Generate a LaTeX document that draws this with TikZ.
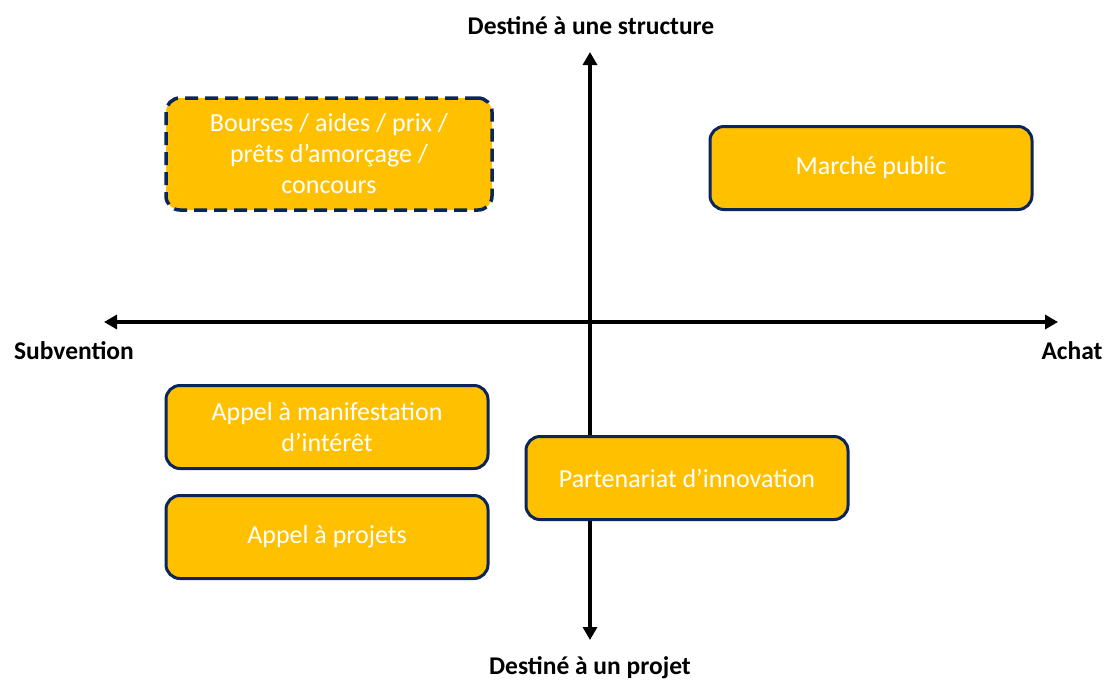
\documentclass[tikz,border=0pt]{standalone}
\usepackage{fontspec}
\setmainfont{Carlito}
\usepackage{tikz}
\usetikzlibrary{arrows, arrows.meta, shapes, positioning}
\definecolor{gold}{HTML}{FFC000}
\definecolor{navy}{HTML}{0A2559}

\begin{document}
\begin{tikzpicture}[x=1pt,y=-1pt,>={Triangle[width=14pt,length=13pt]},
  axis/.style={<->,line width=3.5pt},
  lab/.style={font=\fontsize{25.5}{30}\selectfont\bfseries},
  card/.style={rectangle,rounded corners=14pt,draw=navy,line width=3pt,
  fill=gold,text=white,align=center,font=\fontsize{26}{31}\selectfont,
  minimum width=322pt,minimum height=83pt,inner sep=0pt},
  dcard/.style={card,line width=3.5pt,dash pattern=on 13pt off 7pt,
  minimum width=326pt,minimum height=112pt}]
  \useasboundingbox (0,0) rectangle (1104,681);
  % axes
  \coordinate (N) at (590,52);
  \coordinate (S) at (590,640);
  \coordinate (W) at (104,322);
  \coordinate (E) at (1058,322);
  \draw[axis] (S) -- (N);
  \draw[axis] (W) -- (E);
  \node[lab] (Top) at (591,26) {Destiné à une structure};
  \node[lab] (Bottom) at (590,668) {Destiné à un projet};
  \node[lab] (Left) at (74,351) {Subvention};
  \node[lab] (Right) at (1072,351) {Achat};
  % quadrants
  \node[dcard] (Bourses) at (329,154) {Bourses / aides / prix /\\ prêts d’amorçage /\\ concours};
  \node[card] (Marche) at (871,168) {Marché public};
  \node[card] (AMI) at (327,427) {Appel à manifestation\\ d’intérêt};
  \node[card] (AAP) at (327,537) {Appel à projets};
  \node[card] (Partenariat) at (687,478) {Partenariat d’innovation};
\end{tikzpicture}
\end{document}
